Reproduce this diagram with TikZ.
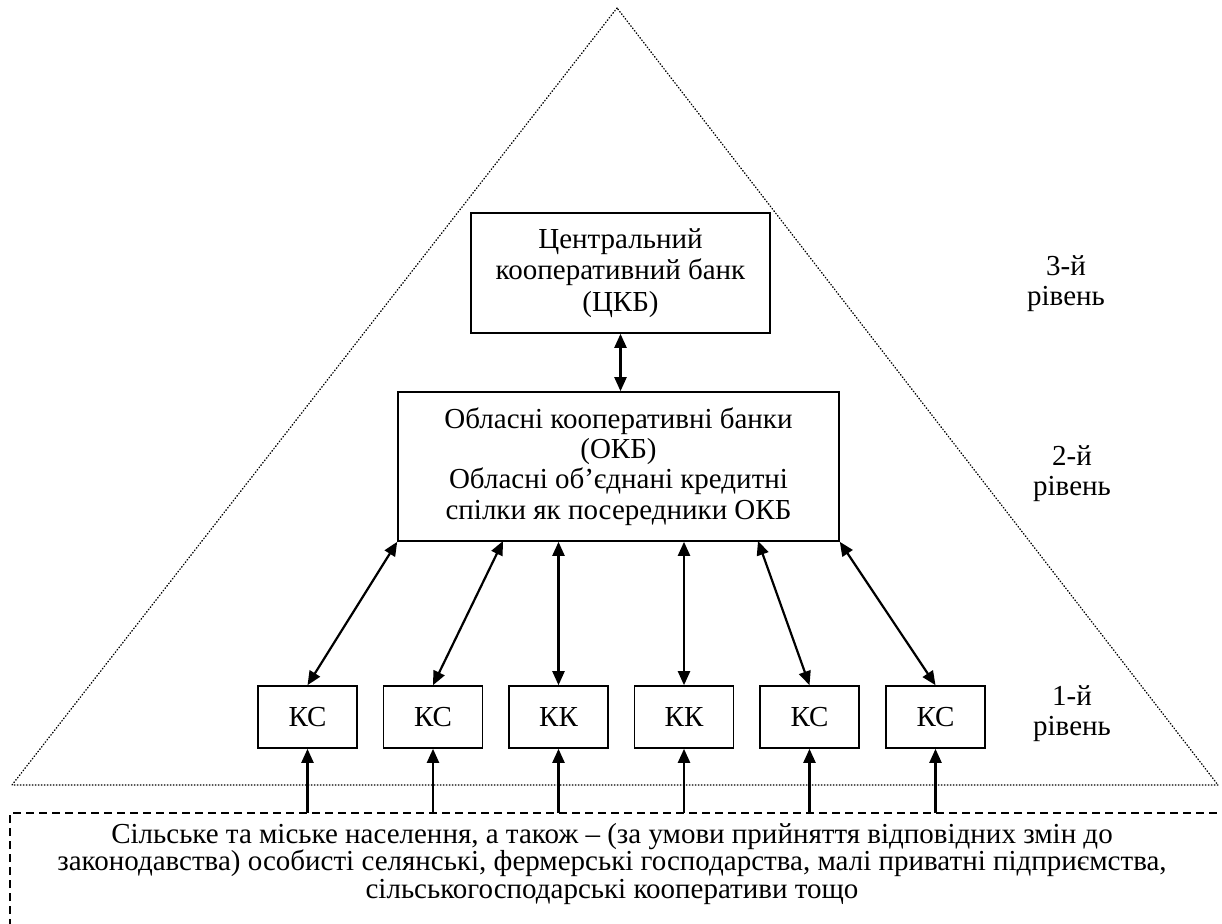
\documentclass[tikz,border=0pt]{standalone}
\usepackage{fontspec}
\setmainfont{Liberation Serif}
\usetikzlibrary{arrows.meta}
\begin{document}
\begin{tikzpicture}[x=1pt,y=-1pt,
  txt/.style={font=\fontsize{29}{30}\selectfont, align=center, inner sep=0pt},
  box/.style={draw, line width=1.6pt, txt},
  kbox/.style={box, minimum width=99pt, minimum height=62pt},
  tip/.tip={Triangle[length=14pt,width=12pt]},
  link/.style={line width=2.2pt, tip-tip},
  up/.style={line width=2.2pt, -tip}]
\useasboundingbox (0,0) rectangle (1222,923);

% dotted pyramid
\draw[line width=1.4pt, dash pattern=on 0.6pt off 2.4pt, line cap=round]
  (617,8) -- (12,785) -- (1218,785) -- cycle;

% dashed frame of the population block (runs off the page)
\begin{scope}
  \clip (0,0) rectangle (1222,923);
  \draw[dash pattern=on 8pt off 5pt, line width=1.3pt] (10,940) -- (10,813) -- (1240,813);
\end{scope}
\coordinate (dtop) at (0,813);

% level 3
\node[box, minimum width=299pt, minimum height=120pt, font=\fontsize{29}{31.5}\selectfont] (ckb) at (620.5,273)
  {Центральний\\кооперативний банк\\(ЦКБ)};
% level 2
\node[box, minimum width=441pt, minimum height=149pt, font=\fontsize{29}{30.3}\selectfont] (okb) at (618.5,466.5)
  {Обласні кооперативні банки\\(ОКБ)\\Обласні об’єднані кредитні\\спілки як посередники ОКБ};
% level 1
\node[kbox] (k1) at (307.5,717) {КС};
\node[kbox] (k2) at (433,717) {КС};
\node[kbox] (k3) at (558.5,717) {КК};
\node[kbox] (k4) at (684,717) {КК};
\node[kbox] (k5) at (809.5,717) {КС};
\node[kbox] (k6) at (935.5,717) {КС};

% level captions
\node[txt] (l3) at (1066,284) {3-й\\рівень};
\node[txt] (l2) at (1072,474) {2-й\\рівень};
\node[txt] (l1) at (1072,714) {1-й\\рівень};

% population
\node[txt, font=\fontsize{29}{27.5}\selectfont] (pop) at (612,864)
  {Сільське та міське населення, а також – (за умови прийняття відповідних змін до\\
   законодавства) особисті селянські, фермерські господарства, малі приватні підприємства,\\
   сільськогосподарські кооперативи тощо};

% connectors
\coordinate (o2) at (503,541);
\coordinate (o5) at (758,541);
\draw[link] (ckb.south) -- (ckb.south |- okb.north);
\draw[link] (okb.south west) -- (k1.north);
\draw[link] (o2) -- (k2.north);
\draw[link] (k3.north |- okb.south) -- (k3.north);
\draw[link] (k4.north |- okb.south) -- (k4.north);
\draw[link] (o5) -- (k5.north);
\draw[link] (okb.south east) -- (k6.north);

\foreach \k in {k1,k2,k3,k4,k5,k6}
  \draw[up] (\k |- dtop) -- (\k.south);
\end{tikzpicture}
\end{document}
